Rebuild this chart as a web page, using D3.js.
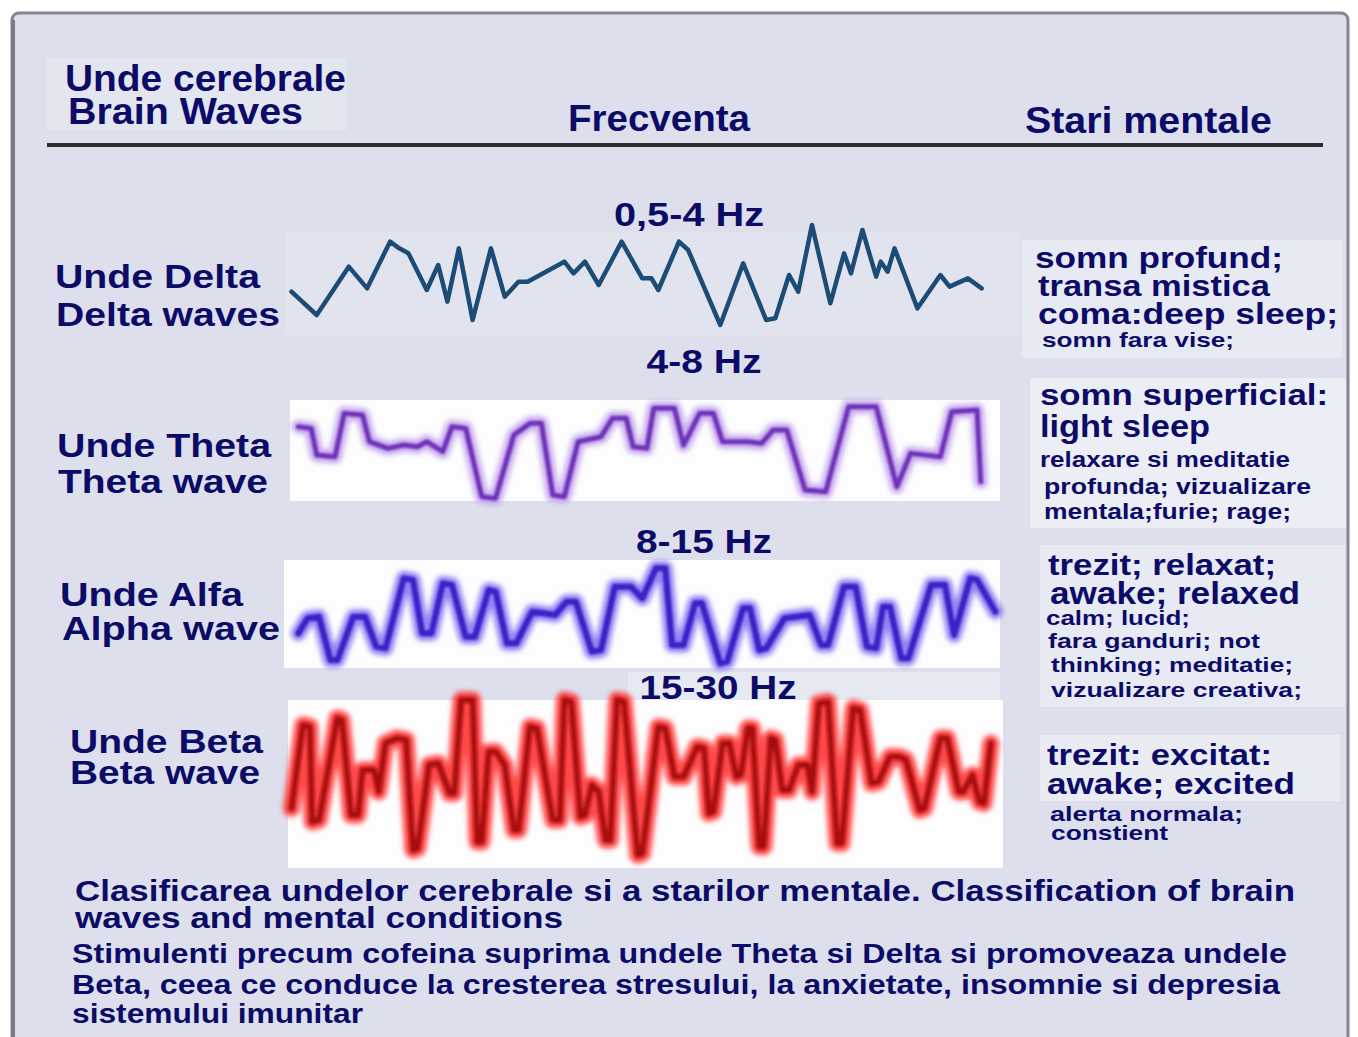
<html>
<head>
    <meta charset="utf-8">
    <script src="https://d3js.org/d3.v7.min.js"></script>
    <title>brain waves</title>
    <style>
        body { margin: 0; background: #fff; }
        text { font-family: "Liberation Sans", Arial, sans-serif; font-weight: bold; fill: #0c0c68; }
    </style>
</head>
<body>
<svg id="chart"></svg>
<script>
    // ---- data ----
    const labelsRo = ["Unde Delta", "Unde Theta", "Unde Alfa", "Unde Beta"];
    const labelsEn = ["Delta waves", "Theta wave", "Alpha wave", "Beta wave"];
    const freqRanges = ["0,5-4 Hz", "4-8 Hz", "8-15 Hz", "15-30 Hz"];

    // time (arbitrary units) and amplitude (arbitrary units) of each trace
    const deltaT = [25,80,150,190,240,260,280,320,345,365,390,420,460,490,520,540,620,640,665,695,745,790,810,825,870,890,960,1010,1060,1080,1110,1130,1160,1200,1230,1245,1270,1300,1310,1325,1340,1390,1440,1460,1500,1530];
    const deltaV = [-5,-75,70,5,145,125,110,0,75,-35,125,-90,125,-20,25,25,85,50,85,15,145,35,35,0,145,120,-105,80,-90,-85,45,-5,195,-40,110,50,180,40,85,55,125,-55,45,10,35,5];

    const thetaT = [40,68,80,120,140,180,195,235,270,300,320,355,375,405,440,470,510,545,570,595,620,650,700,725,755,770,800,815,860,880,915,945,965,1020,1050,1075,1105,1145,1190,1240,1300,1345,1375,1440,1465,1520,1528];
    const thetaV = [75,70,-10,-15,115,110,30,10,20,15,30,0,75,70,-135,-140,50,85,85,-130,-135,30,45,100,100,15,10,130,130,20,115,115,30,30,25,65,65,-115,-120,135,135,-105,-5,-15,120,125,-90];

    const alphaT = [40,60,85,110,125,160,185,210,230,270,290,310,330,355,375,405,425,455,470,495,515,550,575,600,625,645,680,700,730,765,790,820,840,855,880,905,920,960,975,1010,1025,1045,1060,1100,1155,1180,1195,1230,1255,1280,1300,1315,1330,1355,1370,1420,1450,1470,1505,1520,1560];
    const alphaV = [-55,-10,-5,-135,-135,-5,-5,-95,-100,110,105,-55,-55,95,90,-65,-65,75,70,-85,-85,10,5,0,40,40,-110,-105,85,85,50,140,140,-90,-90,35,35,-145,-140,20,20,-105,-100,-10,0,-90,-90,85,85,-95,-100,25,25,-130,-130,90,90,-60,110,105,10];

    const betaT = [25,50,65,70,85,125,135,155,170,180,205,215,230,255,275,290,300,325,345,370,380,395,420,430,440,455,470,490,510,520,545,560,595,610,620,635,655,665,680,695,710,720,735,750,780,790,825,840,860,880,910,925,935,945,965,980,995,1005,1020,1030,1045,1055,1070,1080,1095,1110,1130,1150,1160,1175,1195,1215,1225,1250,1265,1290,1305,1330,1350,1365,1395,1405,1440,1455,1480,1490,1510,1525,1535,1550];
    const betaV = [-100,150,145,-140,-135,170,165,-120,-120,15,15,-50,95,110,105,-225,-220,30,35,-55,-55,225,225,-200,-200,70,70,30,-165,-165,145,140,-135,-135,225,220,-125,-120,-30,-50,-195,-195,225,220,-240,-235,145,140,-5,-5,85,80,-115,-110,95,95,-5,0,140,140,-215,-215,110,105,-45,-45,30,30,-50,215,220,-205,-205,200,195,-25,-20,55,55,45,-105,-100,110,110,-50,-50,0,-80,-85,95];

    const states = [
        ["somn profund;", "transa mistica", "coma:deep sleep;", "somn fara vise;"],
        ["somn superficial:", "light sleep", "relaxare si meditatie", "profunda; vizualizare", "mentala;furie; rage;"],
        ["trezit; relaxat;", "awake; relaxed", "calm; lucid;", "fara ganduri; not", "thinking; meditatie;", "vizualizare creativa;"],
        ["trezit: excitat:", "awake; excited", "alerta normala;", "constient"]
    ];
    const caption = [
        "Clasificarea undelor cerebrale si a starilor mentale. Classification of brain",
        "waves and mental conditions",
        "Stimulenti precum cofeina suprima undele Theta si Delta si promoveaza undele",
        "Beta, ceea ce conduce la cresterea stresului, la anxietate, insomnie si depresia",
        "sistemului imunitar"
    ];

    // ---- layout ----
    const width = 1358, height = 1037;
    let svg = d3.select("svg#chart")
                .attr("width", width)
                .attr("height", height);

    let defs = svg.append("defs");
    [["blurBig", 2.6], ["blurMid", 1.6], ["blurSmall", 0.9], ["blurTiny", 0.5]].forEach(f => {
        defs.append("filter").attr("id", f[0])
            .attr("x", "-10%").attr("y", "-20%").attr("width", "120%").attr("height", "140%")
            .append("feGaussianBlur").attr("stdDeviation", f[1]);
    });

    // panel
    svg.append("rect")
       .attr("x", 12).attr("y", 13)
       .attr("width", 1336).attr("height", 1040)
       .attr("rx", 7)
       .attr("fill", "#dde0ec")
       .attr("stroke", "#86868b")
       .attr("stroke-width", 3);
    svg.append("line")
       .attr("x1", 13).attr("x2", 13).attr("y1", 20).attr("y2", 1037)
       .attr("stroke", "#7c7c82").attr("stroke-width", 4);

    // lighter patches of the original collage
    const patches = [
        [47, 58, 300, 72, "#e3e5ef"],
        [285, 232, 735, 103, "#e1e4ee"],
        [1022, 240, 320, 118, "#e8eaf3"],
        [1030, 378, 316, 150, "#eceef5"],
        [1040, 545, 305, 162, "#e8eaf3"],
        [1040, 735, 300, 66, "#eaecf4"],
        [628, 672, 372, 28, "#e7e9f2"]
    ];
    svg.selectAll("rect.patch").data(patches)
       .join("rect").attr("class", "patch")
       .attr("x", d => d[0]).attr("y", d => d[1])
       .attr("width", d => d[2]).attr("height", d => d[3])
       .attr("fill", d => d[4]);

    // white backing of the coloured traces
    const backs = [[290, 400, 710, 101], [284, 560, 716, 108], [288, 700, 715, 168]];
    svg.selectAll("rect.back").data(backs)
       .join("rect").attr("class", "back")
       .attr("x", d => d[0]).attr("y", d => d[1])
       .attr("width", d => d[2]).attr("height", d => d[3])
       .attr("fill", "#fdfdfe");

    // header
    function txt(s, x, y, size, len, anchor) {
        let t = svg.append("text")
                   .attr("x", x).attr("y", y)
                   .attr("font-size", size)
                   .attr("text-anchor", anchor || "start")
                   .text(s);
        if (len) t.attr("textLength", len).attr("lengthAdjust", "spacingAndGlyphs");
        return t;
    }
    txt("Unde cerebrale", 65, 91, 36, 281);
    txt("Brain Waves", 68, 124, 36, 235);
    txt("Frecventa", 568, 131, 36, 182);
    txt("Stari mentale", 1025, 133, 36, 247);

    svg.append("line")
       .attr("x1", 47).attr("x2", 1323)
       .attr("y1", 145).attr("y2", 145)
       .attr("stroke", "#2c2c30").attr("stroke-width", 4);

    // ---- traces ----
    const xScale = d3.scaleLinear().domain([0, 1570]).range([280, 1000]);
    const ampScale = d3.scaleLinear().domain([-240, 240]).range([80, -80]);
    const rowY = [290, 451.7, 615, 775];

    const traces = [
        {t: deltaT, v: deltaV, layers: [["#1d4b74", 4.5, "blurTiny", 1]]},
        {t: thetaT, v: thetaV, layers: [["#c4a4ee", 14, "blurBig", 0.9], ["#6e30b8", 5, "blurSmall", 1]]},
        {t: alphaT, v: alphaV, layers: [["#8576f2", 15, "blurBig", 0.9], ["#3a20c6", 6, "blurSmall", 1]]},
        {t: betaT, v: betaV, layers: [["#ff2a2a", 17, "blurBig", 0.85], ["#a80b0e", 6, "blurMid", 1]]}
    ];

    const line = d3.line()
                   .x(d => xScale(d[0]))
                   .y(d => ampScale(d[1]))
                   .curve(d3.curveLinear);

    traces.forEach((tr, i) => {
        let pts = tr.t.map((t, j) => [t, tr.v[j]]);
        let g = svg.append("g").attr("transform", `translate(0,${rowY[i]})`);
        tr.layers.forEach(l => {
            g.append("path")
             .attr("d", line(pts))
             .attr("fill", "none")
             .attr("stroke", l[0])
             .attr("stroke-width", l[1])
             .attr("stroke-linejoin", "round")
             .attr("stroke-linecap", "round")
             .attr("opacity", l[3])
             .attr("filter", `url(#${l[2]})`);
        });
    });

    // ---- frequency labels ----
    const freqPos = [[689, 226, 150], [704, 373, 115], [704, 553, 136], [718, 699, 157]];
    freqRanges.forEach((s, i) => txt(s, freqPos[i][0], freqPos[i][1], 33, freqPos[i][2], "middle"));

    // ---- wave names ----
    const namePos = [
        [[55, 288, 205], [56, 326, 224]],
        [[57, 457, 214], [58, 493, 210]],
        [[60, 606, 183], [62, 640, 218]],
        [[70, 753, 193], [70, 784, 190]]
    ];
    labelsRo.forEach((s, i) => {
        txt(s, namePos[i][0][0], namePos[i][0][1], 34, namePos[i][0][2]);
        txt(labelsEn[i], namePos[i][1][0], namePos[i][1][1], 34, namePos[i][1][2]);
    });

    // ---- mental states ----
    const statePos = [
        [[1035, 268, 30, 248], [1038, 296, 30, 232], [1038, 324, 30, 300], [1042, 347, 21, 192]],
        [[1040, 405, 30, 288], [1040, 437, 32, 170], [1040, 467, 22, 250], [1044, 494, 22, 267], [1044, 519, 22, 247]],
        [[1048, 575, 30, 228], [1050, 604, 31, 250], [1046, 625, 21, 144], [1048, 648, 21, 212], [1051, 672, 21, 242], [1051, 697, 21, 251]],
        [[1047, 765, 30, 225], [1047, 794, 30, 248], [1050, 821, 21, 193], [1051, 840, 21, 117]]
    ];
    states.forEach((lines, i) => {
        lines.forEach((s, j) => {
            let p = statePos[i][j];
            txt(s, p[0], p[1], p[2], p[3]);
        });
    });

    // ---- caption ----
    const capPos = [[75, 901, 29, 1220], [75, 928, 29, 488], [72, 963, 27, 1215], [72, 994, 27, 1208], [72, 1023, 27, 291]];
    caption.forEach((s, i) => txt(s, capPos[i][0], capPos[i][1], capPos[i][2], capPos[i][3]));
</script>
</body>
</html>
